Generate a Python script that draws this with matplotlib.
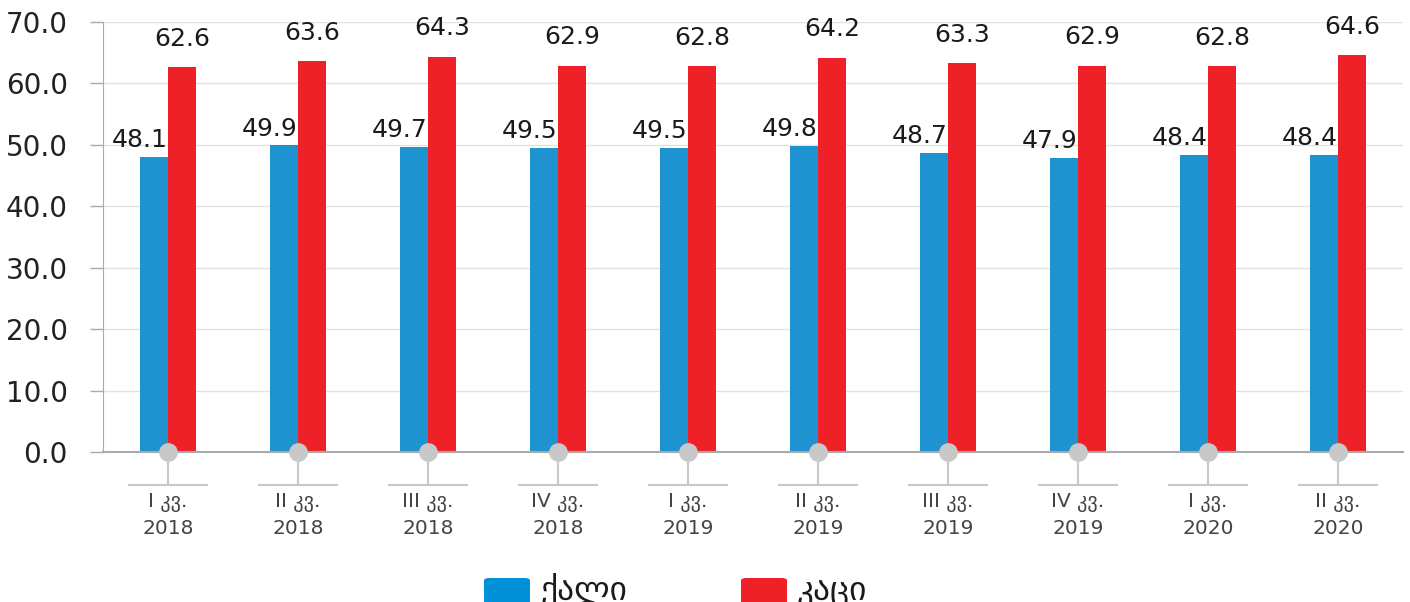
import matplotlib
matplotlib.use("Agg")
import matplotlib.pyplot as plt
from matplotlib.patches import FancyBboxPatch
import numpy as np

plt.rcParams["font.family"] = ["DejaVu Sans"]

# data
quarters = ["I კვ.", "II კვ.", "III კვ.", "IV კვ.", "I კვ.", "II კვ.", "III კვ.", "IV კვ.", "I კვ.", "II კვ."]
years = ["2018", "2018", "2018", "2018", "2019", "2019", "2019", "2019", "2020", "2020"]
women = [48.1, 49.9, 49.7, 49.5, 49.5, 49.8, 48.7, 47.9, 48.4, 48.4]
men = [62.6, 63.6, 64.3, 62.9, 62.8, 64.2, 63.3, 62.9, 62.8, 64.6]
series_names = ["ქალი", "კაცი"]

BLUE = "#1E93CF"
RED = "#EE2128"
GREY = "#c8c8c8"

W, H = 1410, 602
fig = plt.figure(figsize=(W / 100, H / 100), dpi=100)
ax = fig.add_axes([103 / W, 150 / H, 1300 / W, 430 / H])

x = np.arange(len(women))
bw = 28 / 130
ax.bar(x - bw / 2, women, width=bw, color=BLUE, zorder=3)
ax.bar(x + bw / 2, men, width=bw, color=RED, zorder=3)

for xi, v in zip(x, women):
    ax.annotate(f"{v:.1f}", (xi - bw, v), xytext=(0, 7), textcoords="offset points",
                ha="center", va="baseline", fontsize=18, color="#1a1a1a")
for xi, v in zip(x, men):
    ax.annotate(f"{v:.1f}", (xi + bw / 2, v), xytext=(0, 15.5), textcoords="offset points",
                ha="center", va="baseline", fontsize=18, color="#1a1a1a")

ax.set_xlim(-0.5, len(x) - 0.5)
ax.set_ylim(0, 70)
ax.set_yticks(np.arange(0, 71, 10))
ax.set_yticklabels([f"{t:.1f}" for t in np.arange(0, 71, 10)], fontsize=20, color="#222222")
ax.tick_params(axis="y", length=9.4, width=1, color="#aaaaaa", pad=16)
ax.grid(axis="y", color="#e2e2e2", linewidth=1, zorder=0)

ax.set_xticks(x)
ax.set_xticklabels([f"{q}\n{y}" for q, y in zip(quarters, years)], fontsize=14.5,
                   color="#444444", linespacing=1.45)
ax.tick_params(axis="x", length=0, pad=29.5)

for s in ["top", "right"]:
    ax.spines[s].set_visible(False)
ax.spines["left"].set_color("#aaaaaa")
ax.spines["bottom"].set_color("#aaaaaa")
ax.spines["bottom"].set_linewidth(1.5)
ax.spines["bottom"].set_zorder(4)

# category markers below the baseline
px = 70 / 430  # data units per pixel
for xi in x:
    ax.plot([xi, xi], [0, -33 * px], color=GREY, lw=1.5, clip_on=False, zorder=4)
    ax.plot([xi - 0.3, xi + 0.3], [-33 * px, -33 * px], color=GREY, lw=1.5, clip_on=False, zorder=4)
    ax.plot(xi, 0, "o", ms=13.5, color=GREY, mec="none", clip_on=False, zorder=5)

# legend (partly cut off at bottom, as in the reference)
for (x0, color), name in zip([(484, "#0191D8"), (741, RED)], series_names):
    fig.patches.append(FancyBboxPatch((x0 / W, -8 / H), 46 / W, 32 / H,
                                      boxstyle="round,pad=0,rounding_size=0.004",
                                      transform=fig.transFigure, facecolor=color,
                                      edgecolor="none"))
    fig.text((x0 + 56) / W, -6 / H, name, fontsize=24, color="#1a1a1a",
             ha="left", va="bottom")

fig.savefig("out.png", dpi=100)
